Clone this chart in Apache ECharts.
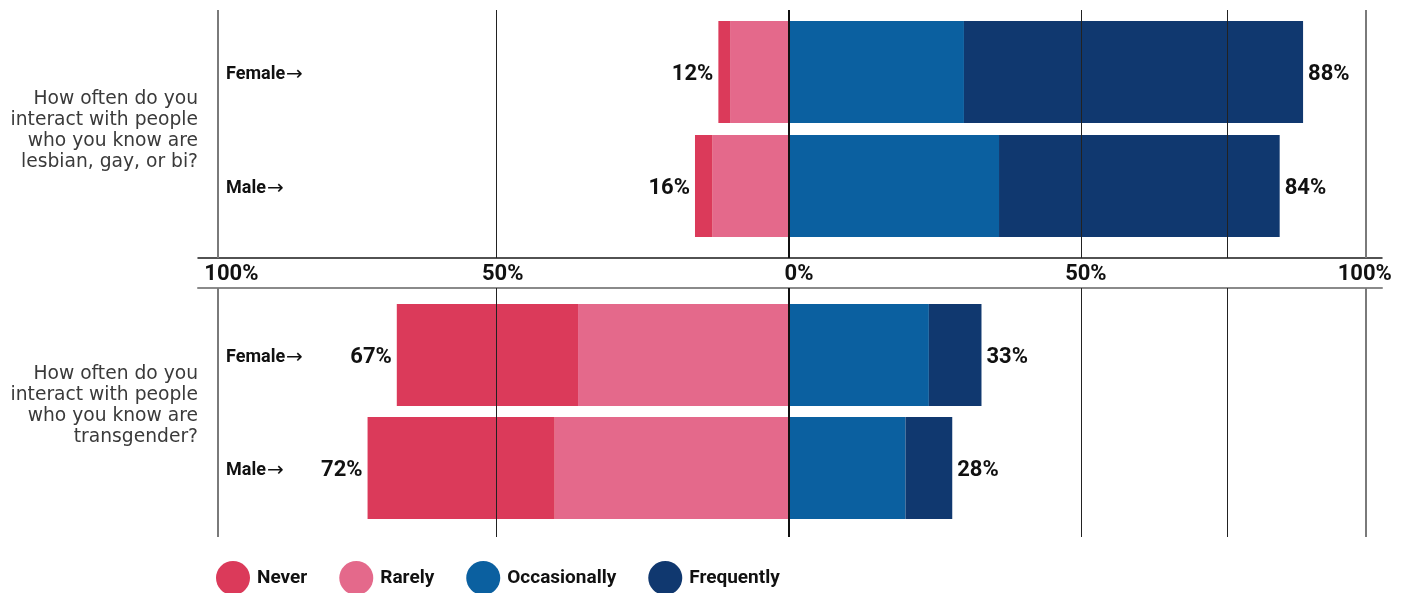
<!DOCTYPE html>
<html>
<head>
<meta charset="utf-8">
<script src="https://cdn.jsdelivr.net/npm/echarts@6/dist/echarts.min.js"></script>
<style>
  html, body { margin: 0; padding: 0; background: #ffffff; }
  #chart { width: 1408px; height: 593px; }
</style>
</head>
<body>
<div id="chart"></div>
<script>
// ---- data -------------------------------------------------------------
const CATEGORIES = ['Female', 'Male'];
const QUESTIONS = [
  'How often do you\ninteract with people\nwho you know are\nlesbian, gay, or bi?',
  'How often do you\ninteract with people\nwho you know are\ntransgender?'
];
const LEVELS = ['Never', 'Rarely', 'Occasionally', 'Frequently'];

// percentages per category (Female, Male)
const LGB_NEVER = [2, 3];
const LGB_RARELY = [10, 13];
const LGB_OCCASIONALLY = [30, 36];
const LGB_FREQUENTLY = [58, 48];

const TRANS_NEVER = [31, 32];
const TRANS_RARELY = [36, 40];
const TRANS_OCCASIONALLY = [24, 20];
const TRANS_FREQUENTLY = [9, 8];

const AXIS_TICKS = [-100, -50, 0, 50, 100];
const GUIDE_LINES = [-50, 50, 75];

// ---- style ------------------------------------------------------------
const FONT = 'Roboto, "Noto Sans", "DejaVu Sans", sans-serif';
const WIDE_FONT = '"DejaVu Sans", "Noto Sans", sans-serif';
const COLORS = {
  Never: '#db3a5a',
  Rarely: '#e4698b',
  Occasionally: '#0b60a0',
  Frequently: '#10386f'
};
const X_MIN = -101;
const X_MAX = 101.5;
const PANEL_EDGES = [-97.6, 98.8];
const GRID_LEFT = 198;
const GRID_RIGHT = 26;
// horizontal nudges for the percentage scale labels
const TICK_LABEL_PAD = [[0, 0, 0, 55], [0, 0, 0, 13], [0, 0, 0, 21], [0, 0, 0, 10], [0, 17, 0, 0]];

const panels = [
  {
    question: QUESTIONS[0],
    never: LGB_NEVER, rarely: LGB_RARELY,
    occasionally: LGB_OCCASIONALLY, frequently: LGB_FREQUENTLY,
    lineTop: 10, lineHeight: 248, barTop: 15, barHeight: 228, textY: 131
  },
  {
    question: QUESTIONS[1],
    never: TRANS_NEVER, rarely: TRANS_RARELY,
    occasionally: TRANS_OCCASIONALLY, frequently: TRANS_FREQUENTLY,
    lineTop: 288, lineHeight: 249, barTop: 298.5, barHeight: 226, textY: 406
  }
];

const grids = [], xAxes = [], yAxes = [], series = [], graphics = [];

const tickRich = {};
TICK_LABEL_PAD.forEach((pad, i) => {
  tickRich['t' + i] = {
    padding: pad, fontSize: 22, fontWeight: 'bold', color: '#111', fontFamily: FONT
  };
});

panels.forEach((p, i) => {
  const lineIdx = 2 * i, barIdx = 2 * i + 1;

  grids.push(
    { left: GRID_LEFT, right: GRID_RIGHT, top: p.lineTop, height: p.lineHeight, outerBoundsMode: 'none' },
    { left: GRID_LEFT, right: GRID_RIGHT, top: p.barTop, height: p.barHeight, outerBoundsMode: 'none' }
  );

  // scale band between the two panels
  xAxes.push({
    gridIndex: lineIdx, type: 'value', min: X_MIN, max: X_MAX,
    position: i === 0 ? 'bottom' : 'top',
    axisLine: {
      show: true, onZero: false,
      lineStyle: i === 0 ? { color: '#1a1a1a', width: 1.5 } : { color: '#8a8a8a', width: 2 }
    },
    axisTick: { show: false },
    splitLine: { show: false },
    axisLabel: i === 0 ? {
      show: true,
      customValues: AXIS_TICKS,
      margin: 5,
      formatter: v => '{t' + AXIS_TICKS.indexOf(v) + '|' + Math.abs(v) + '%}',
      rich: tickRich
    } : { show: false }
  });
  xAxes.push({
    gridIndex: barIdx, type: 'value', min: X_MIN, max: X_MAX, show: false
  });

  yAxes.push({ gridIndex: lineIdx, type: 'value', show: false, min: 0, max: 1 });
  yAxes.push({
    gridIndex: barIdx, type: 'category', data: CATEGORIES, inverse: true,
    axisLine: { show: false }, axisTick: { show: false }, splitLine: { show: false },
    axisLabel: {
      inside: true, margin: 28,
      formatter: v => '{n|' + v + '}{a|→}',
      rich: {
        n: { fontSize: 18, fontWeight: 'bold', color: '#111', fontFamily: FONT, padding: [5, 1, 0, 0] },
        a: { fontSize: 20, fontWeight: 'normal', color: '#111', fontFamily: WIDE_FONT, padding: [5, 0, 0, 0] }
      }
    }
  });

  // vertical guide lines, drawn above the bars
  const dark = { color: '#222', width: 1, type: 'solid' };
  const edge = { color: '#7a7a7a', width: 2, type: 'solid' };
  series.push({
    type: 'line', xAxisIndex: lineIdx, yAxisIndex: lineIdx, data: [], silent: true,
    markLine: {
      silent: true, symbol: ['none', 'none'], label: { show: false }, animation: false,
      data: [
        ...GUIDE_LINES.map(v => ({ xAxis: v, lineStyle: dark })),
        ...PANEL_EDGES.map(v => ({ xAxis: v, lineStyle: edge })),
        { xAxis: 0, lineStyle: { color: '#111', width: 2, type: 'solid' } }
      ]
    }
  });

  const totalLabel = {
    show: true, distance: 5, offset: [0, 2.5],
    fontSize: 22, fontWeight: 'bold', color: '#111', fontFamily: FONT
  };
  const base = {
    type: 'bar', xAxisIndex: barIdx, yAxisIndex: barIdx, stack: 'panel' + i,
    barWidth: 102, animation: false
  };
  series.push(
    { ...base, name: 'Rarely', data: p.rarely.map(v => -v), itemStyle: { color: COLORS.Rarely } },
    {
      ...base, name: 'Never', data: p.never.map(v => -v), itemStyle: { color: COLORS.Never },
      label: { ...totalLabel, position: 'left',
        formatter: d => (p.never[d.dataIndex] + p.rarely[d.dataIndex]) + '%' }
    },
    { ...base, name: 'Occasionally', data: p.occasionally, itemStyle: { color: COLORS.Occasionally } },
    {
      ...base, name: 'Frequently', data: p.frequently, itemStyle: { color: COLORS.Frequently },
      label: { ...totalLabel, position: 'right',
        formatter: d => (p.occasionally[d.dataIndex] + p.frequently[d.dataIndex]) + '%' }
    }
  );

  graphics.push({
    type: 'text', x: GRID_LEFT, y: p.textY, silent: true,
    style: {
      text: p.question, align: 'right', verticalAlign: 'middle',
      fontSize: 18.7, lineHeight: 21, fontFamily: WIDE_FONT, fill: '#3a3a3a'
    }
  });
});

const chart = echarts.init(document.getElementById('chart'), null, { renderer: 'canvas' });
chart.setOption({
  backgroundColor: '#ffffff',
  animation: false,
  grid: grids,
  xAxis: xAxes,
  yAxis: yAxes,
  series: series,
  graphic: graphics,
  legend: {
    data: LEVELS, left: 216, top: 561, padding: 0, icon: 'circle',
    itemWidth: 34, itemHeight: 34, itemGap: 32, selectedMode: false,
    textStyle: {
      fontSize: 19, fontWeight: 'bold', color: '#111', fontFamily: FONT,
      padding: [2, 0, 0, 2]
    }
  }
});
</script>
</body>
</html>
